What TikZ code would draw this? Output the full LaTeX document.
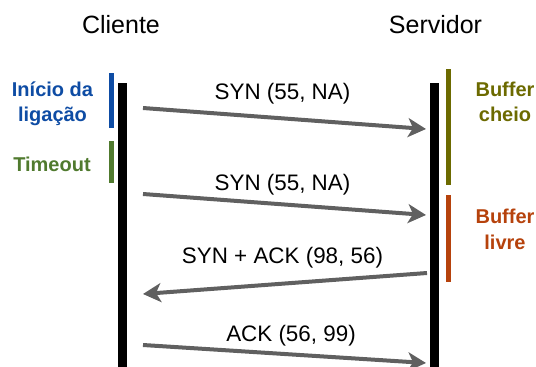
\documentclass[tikz,border=0pt]{standalone}
\usepackage{fontspec}
\setmainfont{Liberation Sans}
\usetikzlibrary{arrows.meta}
\definecolor{msgGrey}{RGB}{96,96,96}
\definecolor{startBlue}{RGB}{14,76,164}
\definecolor{timeGreen}{RGB}{80,122,46}
\definecolor{fullOlive}{RGB}{108,106,0}
\definecolor{freeOrange}{RGB}{182,66,12}
\tikzset{
  lifeline/.style={line width=8.5pt, black},
  markbar/.style={line width=4.5pt},
  msg/.style={line width=4pt, msgGrey, -{Stealth[length=18pt,width=19pt,inset=5pt]}},
  header/.style={font=\fontsize{25}{30}\selectfont, inner sep=0pt, anchor=base},
  msglabel/.style={font=\fontsize{22.4}{27}\selectfont, inner sep=0pt, anchor=base},
  note/.style={font=\bfseries\fontsize{20}{25.7}\selectfont, inner sep=0pt, anchor=base, align=center},
}
\begin{document}
\begin{tikzpicture}[x=1pt,y=-1pt]
  \useasboundingbox (0,0) rectangle (536,367);

  % column headers
  \node[header] (cli) at (121,33) {Cliente};
  \node[header] (srv) at (435.5,33) {Servidor};

  % lifelines
  \coordinate (cliTop) at (122.5,83);
  \coordinate (cliBot) at (122.5,367);
  \coordinate (srvTop) at (434.5,83);
  \coordinate (srvBot) at (434.5,367);
  \draw[lifeline] (cliTop) -- (cliBot);
  \draw[lifeline] (srvTop) -- (srvBot);

  % state bars on the client side
  \coordinate (b1a) at (111.5,73);  \coordinate (b1b) at (111.5,128);
  \coordinate (b2a) at (111.5,141); \coordinate (b2b) at (111.5,183);
  \draw[markbar, startBlue] (b1a) -- (b1b);
  \draw[markbar, timeGreen] (b2a) -- (b2b);

  % state bars on the server side
  \coordinate (b3a) at (448.3,69);  \coordinate (b3b) at (448.3,185);
  \coordinate (b4a) at (448.3,195); \coordinate (b4b) at (448.3,282);
  \draw[markbar, fullOlive] (b3a) -- (b3b);
  \draw[markbar, freeOrange] (b4a) -- (b4b);

  % state labels (base anchor sits on the last line)
  \node[note, text=startBlue] (start) at (52.5,121.7) {Início da\\ligação};
  \node[note, text=timeGreen] (tout) at (52,171.7) {Timeout};
  \node[note, text=fullOlive] (full) at (505,121.7) {Buffer\\cheio};
  \node[note, text=freeOrange] (free) at (505,249) {Buffer\\livre};

  % message endpoints
  \coordinate (m1s) at (143,108);   \coordinate (m1e) at (426,129);
  \coordinate (m2s) at (143,194);   \coordinate (m2e) at (426,215);
  \coordinate (m3s) at (427,273);   \coordinate (m3e) at (143,294);
  \coordinate (m4s) at (143,345);   \coordinate (m4e) at (426,363);

  % messages
  \draw[msg] (m1s) -- (m1e);
  \draw[msg] (m2s) -- (m2e);
  \draw[msg] (m3s) -- (m3e);
  \draw[msg] (m4s) -- (m4e);

  % message labels
  \node[msglabel] (l1) at (282.5,99) {SYN (55, NA)};
  \node[msglabel] (l2) at (282.5,190.7) {SYN (55, NA)};
  \node[msglabel] (l3) at (282.5,263.3) {SYN + ACK (98, 56)};
  \node[msglabel] (l4) at (291,341.7) {ACK (56, 99)};
\end{tikzpicture}
\end{document}
